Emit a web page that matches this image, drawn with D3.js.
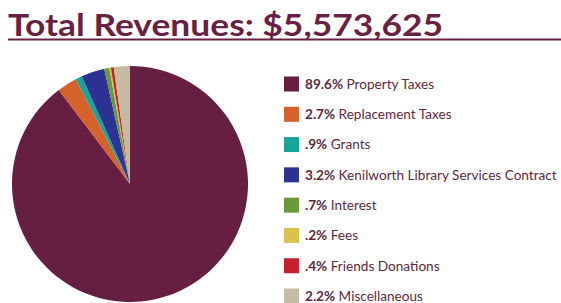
<!DOCTYPE html>
<html><head><meta charset="utf-8">
<script src="https://cdn.jsdelivr.net/npm/d3@7"></script>
<style>
html,body{margin:0;padding:0;background:#fff;}
svg{display:block;}
</style></head>
<body>
<svg id="chart" width="561" height="303"></svg>
<script>
const categories = ["Property Taxes","Replacement Taxes","Grants","Kenilworth Library Services Contract","Interest","Fees","Friends Donations","Miscellaneous"];
const values = [89.6, 2.7, 0.9, 3.2, 0.7, 0.2, 0.4, 2.2];
const labels = ["89.6%","2.7%",".9%","3.2%",".7%",".2%",".4%","2.2%"];
const colors = ["#661f42","#d4622a","#17a59b","#2c3392","#6b9a3c","#d9c24e","#c52131","#c6baa2"];
const title = "Total Revenues: $5,573,625";

const svg = d3.select("#chart");
const W = 561, H = 303;
const maroon = "#6a1f44";

svg.append("text")
  .attr("x", 8).attr("y", 36)
  .attr("font-family", "Lato, 'Open Sans', sans-serif")
  .attr("font-weight", "bold")
  .attr("font-size", 31)
  .attr("textLength", 435)
  .attr("lengthAdjust", "spacingAndGlyphs")
  .attr("fill", maroon)
  .text(title);
svg.append("line")
  .attr("x1", 8).attr("x2", W).attr("y1", 39.5).attr("y2", 39.5)
  .attr("stroke", maroon).attr("stroke-width", 2);

const cx = 130, cy = 184, r = 118;
const pie = d3.pie().sort(null).value(d => d);
const arc = d3.arc().innerRadius(0).outerRadius(r);
const g = svg.append("g").attr("transform", `translate(${cx},${cy})`);
g.selectAll("path").data(pie(values)).join("path")
  .attr("d", arc)
  .attr("fill", (d, i) => colors[i]);

const y = d3.scalePoint().domain(categories).range([84, 296]);
const lg = svg.append("g");
const rows = lg.selectAll("g").data(categories).join("g")
  .attr("transform", d => `translate(284,${y(d)})`);
rows.append("rect").attr("x", 0).attr("y", -7.5).attr("width", 15).attr("height", 15)
  .attr("fill", (d, i) => colors[i]);
const t = rows.append("text").attr("x", 21).attr("y", 4.8)
  .attr("font-family", "Lato, 'Open Sans', sans-serif")
  .attr("font-size", 13.6).attr("fill", "#5a2a44");
t.append("tspan").attr("font-weight", "bold").text((d, i) => labels[i]);
t.append("tspan").text(d => " " + d);
</script>
</body></html>
